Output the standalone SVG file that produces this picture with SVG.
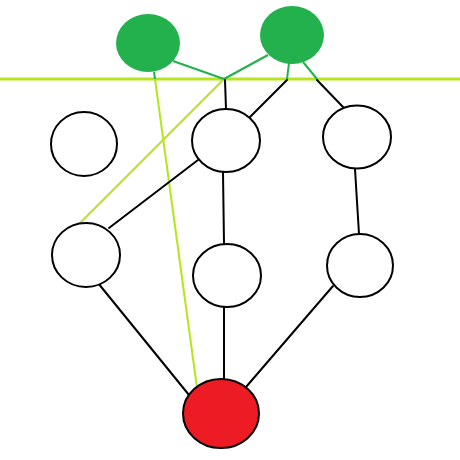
<svg xmlns="http://www.w3.org/2000/svg" width="460" height="460" viewBox="0 0 460 460">
<style>
.n{fill:#fff;stroke:#000;stroke-width:2}
.r{fill:#ed1c24;stroke:#000;stroke-width:2}
.g{fill:#22b14c;stroke:none}
.k{stroke:#000;stroke-width:2;fill:none;stroke-linecap:round}
.dg{stroke:#22b14c;stroke-width:2;fill:none}
.yg{stroke:#b5e61d;stroke-width:2;fill:none}
</style>
<rect width="460" height="460" fill="#fff"/>
<g id="connectors">
<line class="yg" x1="0" y1="79" x2="460" y2="79" style="stroke-width:3"/>
<line class="yg" x1="155" y1="79" x2="197" y2="388"/>
<line class="yg" x1="224" y1="79" x2="80" y2="223"/>
<line class="dg" x1="173" y1="61" x2="224" y2="79"/>
<line class="dg" x1="268" y1="55" x2="224" y2="79"/>
<line class="dg" x1="289" y1="63" x2="287" y2="79"/>
<line class="dg" x1="303" y1="62" x2="317" y2="79"/>
<line class="dg" x1="154" y1="72" x2="155" y2="79"/>
<line class="k" x1="225" y1="80" x2="226" y2="109"/>
<line class="k" x1="287" y1="80" x2="250" y2="117"/>
<line class="k" x1="317" y1="80" x2="343" y2="107"/>
<line class="k" x1="198" y1="160" x2="109" y2="228"/>
<line class="k" x1="223" y1="172" x2="224" y2="244"/>
<line class="k" x1="355" y1="169" x2="359" y2="234"/>
<line class="k" x1="98" y1="283" x2="189" y2="395"/>
<line class="k" x1="224" y1="307" x2="224" y2="380"/>
<line class="k" x1="333" y1="286" x2="246" y2="387"/>
</g>
<g id="g1"><ellipse class="g" cx="148" cy="43" rx="32" ry="29"/></g>
<g id="g2"><ellipse class="g" cx="292" cy="35" rx="32" ry="29"/></g>
<g id="a"><ellipse class="n" cx="84" cy="144" rx="33" ry="32"/></g>
<g id="b"><ellipse class="n" cx="226" cy="140.5" rx="34" ry="31.5"/></g>
<g id="c"><ellipse class="n" cx="357" cy="137" rx="34" ry="31.5"/></g>
<g id="d"><ellipse class="n" cx="86" cy="255" rx="34" ry="32"/></g>
<g id="e"><ellipse class="n" cx="227" cy="275.5" rx="34" ry="31.5"/></g>
<g id="f"><ellipse class="n" cx="360" cy="265.5" rx="33" ry="31.5"/></g>
<g id="red"><ellipse class="r" cx="221" cy="413.5" rx="38" ry="34.5"/></g>
</svg>
